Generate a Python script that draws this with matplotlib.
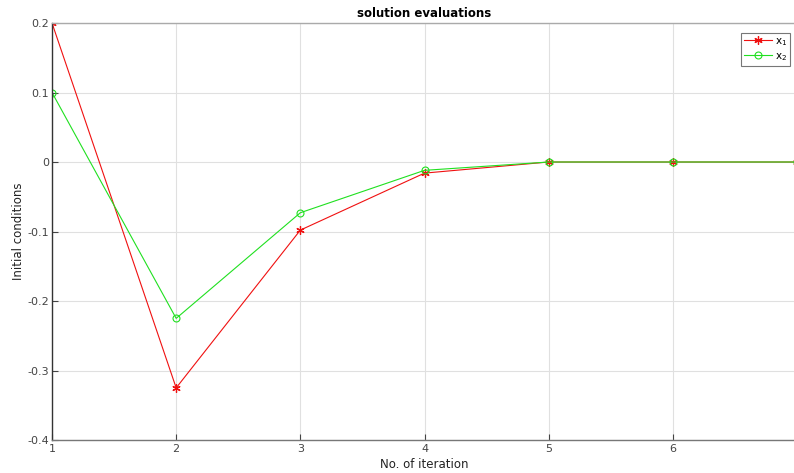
import matplotlib
matplotlib.use("Agg")
import matplotlib.pyplot as plt

iterations = [1, 2, 3, 4, 5, 6, 7]
x1_values = [0.2, -0.325, -0.098, -0.016, 0.0, 0.0, 0.0]
x2_values = [0.1, -0.225, -0.073, -0.012, 0.0, 0.0, 0.0]
x_ticks = [1, 2, 3, 4, 5, 6, 7]
y_ticks = [-0.4, -0.3, -0.2, -0.1, 0, 0.1, 0.2]
y_tick_labels = ["-0.4", "-0.3", "-0.2", "-0.1", "0", "0.1", "0.2"]

W, H = 794, 473
fig = plt.figure(figsize=(W / 100, H / 100), dpi=100)
ax = fig.add_axes([52 / W, 1 - 440 / H, (797 - 52) / W, (440 - 23) / H])

ax.plot(iterations, x1_values, color="#f01010", lw=0.8, marker=(6, 2, 0),
        markersize=6, markeredgewidth=0.9, label="x$_1$")
ax.plot(iterations, x2_values, color="#20e020", lw=0.8, marker="o",
        markersize=5, markerfacecolor="none", markeredgewidth=0.8, label="x$_2$")

ax.set_xlim(1, 7)
ax.set_ylim(-0.4, 0.2)
ax.set_xticks(x_ticks)
ax.set_xticklabels([str(t) if t < 7 else "" for t in x_ticks])
ax.set_yticks(y_ticks)
ax.set_yticklabels(y_tick_labels)
ax.grid(True, color="#e0e0e0", linewidth=0.8)
ax.set_axisbelow(True)
ax.tick_params(direction="in", length=4, labelsize=8, colors="#444444",
               top=False, right=False, pad=3)
ax.tick_params(axis="y", pad=2)
ax.spines["left"].set_color("#333333")
ax.spines["bottom"].set_color("#777777")
ax.spines["top"].set_color("#aaaaaa")
ax.spines["right"].set_visible(False)
for s in ax.spines.values():
    s.set_linewidth(1.0)

ax.set_title("solution evaluations", fontsize=8.5, fontweight="bold", pad=4)
ax.set_xlabel("No. of iteration", fontsize=8.5, labelpad=3, color="#222222")
ax.set_ylabel("Initial conditions", fontsize=8.5, labelpad=2, color="#222222")

leg = ax.legend(loc="upper right", bbox_to_anchor=(790 / W, 1 - 33 / H),
                bbox_transform=fig.transFigure, fontsize=7.5, frameon=True,
                fancybox=False, edgecolor="#555555", handlelength=2.6,
                handletextpad=0.3, borderpad=0.3, labelspacing=0.3,
                borderaxespad=0)
leg.get_frame().set_linewidth(0.8)

fig.savefig("out.png", dpi=100)
